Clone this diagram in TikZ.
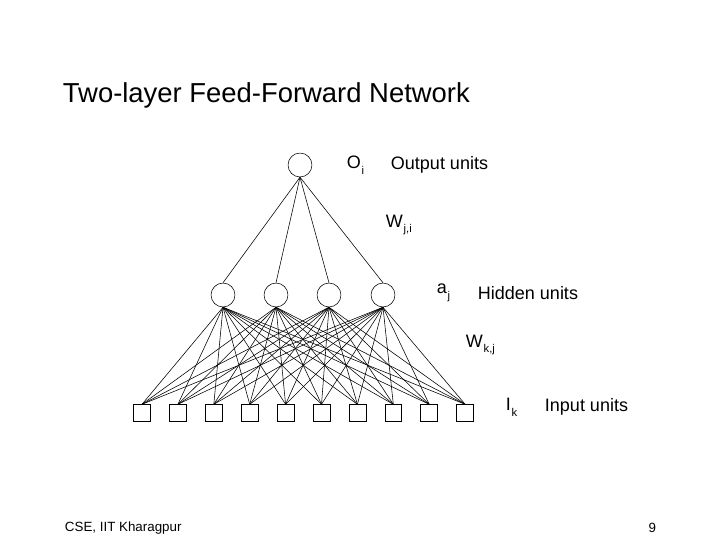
\documentclass[tikz,border=0pt]{standalone}
\usepackage{fontspec}
\setmainfont{Liberation Sans}
\newcommand\Sub[2]{#1\raisebox{-4pt}{\fontsize{8}{9}\selectfont\kern0.5pt #2}}
\tikzset{
    unit/.style={draw,circle,minimum size=17pt,inner sep=0pt},
    input/.style={draw,minimum size=12pt,inner sep=0pt},
    lbl/.style={anchor=west,font=\fontsize{12.8}{15}\selectfont},
}
\begin{document}
\begin{tikzpicture}[x=0.025cm,y=-0.025cm]
    \useasboundingbox (0,0) rectangle (720,540);
    \node[anchor=west,font=\fontsize{19.5}{23}\selectfont] (title) at (58,95) {Two-layer Feed-Forward Network};
    % units
    \node[unit] (out) at (300,165) {};
    \foreach \j/\x in {1/223,2/276,3/329,4/383}
        \node[unit] (h\j) at (\x,295) {};
    \foreach \k in {1,...,10}
        \node[input] (in\k) at ({142+35.9*(\k-1)},413) {};
    % weights
    \foreach \j in {1,...,4}
        \draw (out.south) -- (h\j.north);
    \foreach \j in {1,...,4}
        \foreach \k in {1,...,10}
            \draw[thin] (h\j.south) -- (in\k.north);
    % labels
    \node[lbl] (oi) at (342,165) {\Sub{O}{i}};
    \node[lbl] (outl) at (386,165) {Output units};
    \node[lbl] (wji) at (381,225) {\Sub{W}{j,i}};
    \node[lbl] (aj) at (432,293) {\Sub{a}{j}};
    \node[lbl] (hidl) at (473,293) {Hidden units};
    \node[lbl] (wkj) at (461,345) {\Sub{W}{k,j}};
    \node[lbl] (ik) at (501,407) {\Sub{I}{k}};
    \node[lbl] (inl) at (540,407) {Input units};
    \node[anchor=west,font=\fontsize{9.5}{11}\selectfont] (foot) at (60,528) {CSE, IIT Kharagpur};
    \node[anchor=east,font=\fontsize{9.5}{11}\selectfont] (page) at (661,528) {9};
\end{tikzpicture}
\end{document}
